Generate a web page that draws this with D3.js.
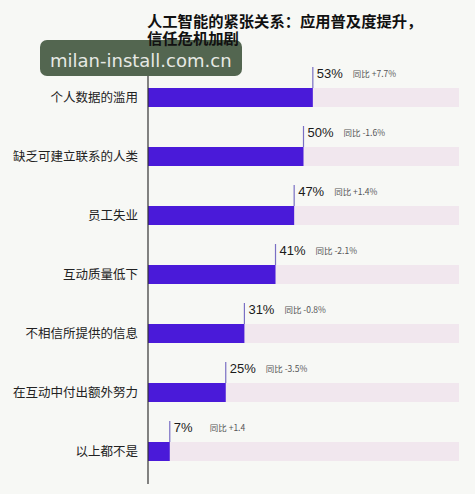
<!DOCTYPE html>
<html>
<head>
<meta charset="utf-8">
<script src="https://cdn.jsdelivr.net/npm/d3@7"></script>
<style>
  body { margin: 0; background: #f7f8f5; }
  svg { display: block; font-family: "Noto Sans CJK SC", "Noto Sans", sans-serif; }
</style>
</head>
<body>
<svg id="canvas"></svg>
<script>
let categories = ["个人数据的滥用", "缺乏可建立联系的人类", "员工失业", "互动质量低下", "不相信所提供的信息", "在互动中付出额外努力", "以上都不是"];
let values = [53, 50, 47, 41, 31, 25, 7];
let yoy = ["同比 +7.7%", "同比 -1.6%", "同比 +1.4%", "同比 -2.1%", "同比 -0.8%", "同比 -3.5%", "同比 +1.4"];
let titleLines = ["人工智能的紧张关系：应用普及度提升，", "信任危机加剧"];

let width = 475;
let height = 494;
let left = 148;

let canvas = d3.select("#canvas").attr("width", width).attr("height", height);

canvas.append("rect").attr("width", width).attr("height", height).attr("fill", "#f7f8f5");

let xScale = d3.scaleLinear().domain([0, 100]).range([left, 459]);
let yScale = d3.scaleBand()
  .domain(categories)
  .range([68, 481])
  .paddingInner(40 / 59)
  .paddingOuter(20 / 59);

let rows = canvas.append("g")
  .selectAll("g")
  .data(categories)
  .enter()
  .append("g");

// background track
rows.append("rect")
  .attr("x", xScale(0))
  .attr("y", (d) => yScale(d))
  .attr("width", xScale(100) - xScale(0))
  .attr("height", yScale.bandwidth())
  .attr("fill", "#f1e7ee");

// value bar
rows.append("rect")
  .attr("x", xScale(0))
  .attr("y", (d) => yScale(d))
  .attr("width", (d, i) => xScale(values[i]) - xScale(0))
  .attr("height", yScale.bandwidth())
  .attr("fill", "#4a1ad9");

// marker line above bar end
rows.append("line")
  .attr("x1", (d, i) => xScale(values[i]))
  .attr("x2", (d, i) => xScale(values[i]))
  .attr("y1", (d) => yScale(d) - 21)
  .attr("y2", (d) => yScale(d))
  .attr("stroke", "#7a6fc4")
  .attr("stroke-width", 1.2);

rows.append("text")
  .attr("x", (d, i) => xScale(values[i]) + 4)
  .attr("y", (d) => yScale(d) - 10)
  .attr("font-size", 13)
  .attr("font-family", "Liberation Sans, Arial, sans-serif")
  .attr("fill", "#1a1a1a")
  .text((d, i) => values[i] + "%");

rows.append("text")
  .attr("x", (d, i) => xScale(values[i]) + 40)
  .attr("y", (d) => yScale(d) - 11)
  .attr("font-size", 8.5)
  .attr("fill", "#555")
  .text((d, i) => yoy[i]);

// category labels
rows.append("text")
  .attr("x", 138)
  .attr("y", (d) => yScale(d) + yScale.bandwidth() / 2)
  .attr("dy", "0.35em")
  .attr("text-anchor", "end")
  .attr("font-size", 12.5)
  .attr("fill", "#222")
  .text((d) => d);

// axis line
canvas.append("line")
  .attr("x1", left)
  .attr("x2", left)
  .attr("y1", 66)
  .attr("y2", 484)
  .attr("stroke", "#333")
  .attr("stroke-width", 1.2);

// watermark
canvas.append("rect")
  .attr("x", 40)
  .attr("y", 40)
  .attr("width", 202)
  .attr("height", 36)
  .attr("rx", 7)
  .attr("fill", "#536650");
canvas.append("text")
  .attr("x", 50)
  .attr("y", 67)
  .attr("font-size", 18)
  .attr("font-family", "DejaVu Sans, sans-serif")
  .attr("fill", "#e6e9e4")
  .text("milan-install.com.cn");

// title (drawn over the watermark, as in the source)
canvas.append("g")
  .selectAll("text")
  .data(titleLines)
  .enter()
  .append("text")
  .attr("x", 147)
  .attr("y", (d, i) => 26.5 + i * 17)
  .attr("font-size", 15.3)
  .attr("font-weight", "bold")
  .attr("fill", "#111")
  .text((d) => d);
</script>
</body>
</html>
